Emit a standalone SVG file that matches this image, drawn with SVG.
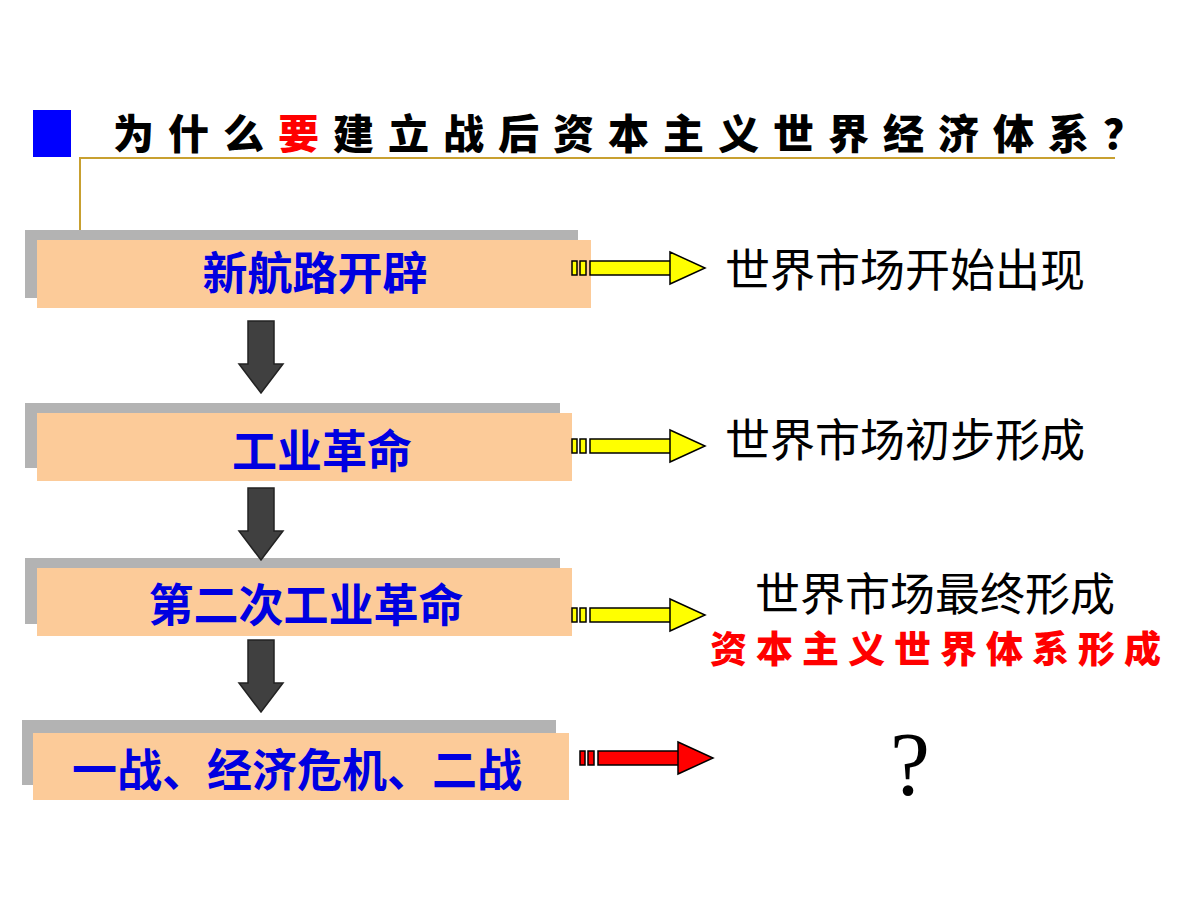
<svg xmlns="http://www.w3.org/2000/svg" width="1200" height="900" viewBox="0 0 1200 900">
<style>
.sh{fill:#b3b3b3}.bx{fill:#fccb99}
.bt{font-family:"Liberation Sans","Noto Sans CJK SC",sans-serif;font-size:45px;fill:#0000e0;text-anchor:middle;font-weight:bold}
.rt{font-family:"Liberation Sans","Noto Sans CJK SC",sans-serif;font-size:45px;fill:#000;text-anchor:middle}
.da{fill:#404040;stroke:#222;stroke-width:1.5}
.ya{fill:#ffff00;stroke:#000;stroke-width:1.5}
.ra{fill:#ff0000;stroke:#000;stroke-width:1.5}
</style>
<defs>
<g id="arr"><rect x="0" y="-7" width="5" height="14"/><rect x="8" y="-7" width="6" height="14"/><path d="M18,-7 H98 V-16 L133,0 L98,16 V-7 H98 V7 H18 Z"/></g>
<path id="down" d="M-13,0 H13 V43 H22 L0,72 L-22,43 H-13 Z"/>
</defs>
<rect x="33" y="110" width="38" height="47" fill="#0000ff"/>
<text x="113" y="149" font-family="Noto Sans CJK SC,sans-serif" font-size="41" font-weight="900" letter-spacing="14">为什么<tspan fill="#ff0000">要</tspan>建立战后资本主义世界经济体系？</text>
<path d="M1115,158 H80 V240" fill="none" stroke="#c8a030" stroke-width="2"/>
<g id="n1"><rect class="sh" x="25" y="230" width="553" height="68"/><rect class="bx" x="37" y="240" width="554" height="68"/><text class="bt" x="315" y="290">新航路开辟</text></g>
<g id="n2"><rect class="sh" x="25" y="403" width="535" height="65"/><rect class="bx" x="37" y="413" width="535" height="68"/><text class="bt" x="322" y="468">工业革命</text></g>
<g id="n3"><rect class="sh" x="25" y="558" width="535" height="66"/><rect class="bx" x="37" y="568" width="535" height="68"/><text class="bt" x="306" y="622">第二次工业革命</text></g>
<g id="n4"><rect class="sh" x="22" y="720" width="534" height="65"/><rect class="bx" x="33" y="733" width="536" height="67"/><text class="bt" x="297" y="787">一战、经济危机、二战</text></g>
<g id="r1"><text class="rt" x="905" y="287">世界市场开始出现</text></g>
<g id="r2"><text class="rt" x="905" y="457">世界市场初步形成</text></g>
<g id="r3"><text class="rt" x="935" y="611">世界市场最终形成</text><text x="940" y="663" text-anchor="middle" font-family="Noto Sans CJK SC,sans-serif" font-size="37" font-weight="900" fill="#ff0000" letter-spacing="9">资本主义世界体系形成</text></g>
<g id="r4"><text x="910" y="795" text-anchor="middle" font-family="Liberation Serif,serif" font-size="90">?</text></g>
<g id="connectors">
<use href="#down" class="da" x="261" y="321"/>
<use href="#down" class="da" x="261" y="488"/>
<use href="#down" class="da" x="261" y="640"/>
<use href="#arr" class="ya" x="572" y="268"/>
<use href="#arr" class="ya" x="572" y="446"/>
<use href="#arr" class="ya" x="572" y="615"/>
<use href="#arr" class="ra" x="580" y="758"/>
</g>
</svg>
